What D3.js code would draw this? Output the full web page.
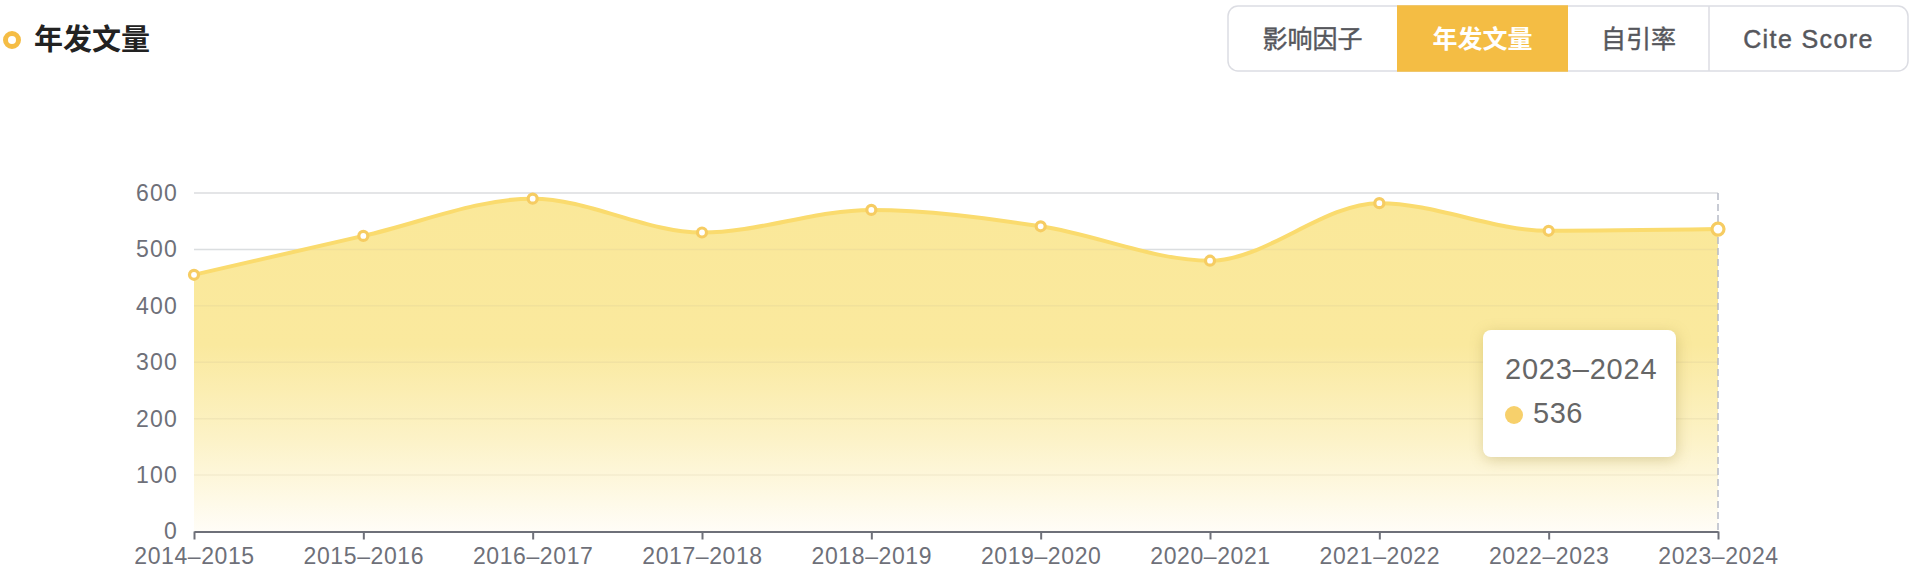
<!DOCTYPE html>
<html>
<head>
<meta charset="utf-8">
<script src="https://cdn.jsdelivr.net/npm/d3@7/dist/d3.min.js"></script>
<style>
  html, body { margin: 0; padding: 0; background: #fff; }
  body { width: 1918px; height: 576px; position: relative; overflow: hidden;
         font-family: "Liberation Sans", "Noto Sans CJK SC", sans-serif; }
  #tip { position: absolute; left: 1483px; top: 330px; width: 193px; height: 127px;
         background: #fff; border-radius: 8px; box-shadow: 1px 3px 14px rgba(160,140,60,0.35);
         box-sizing: border-box; padding: 0; color: #666; }
  #tip .t { position: absolute; left: 22px; top: 22px; font-size: 29px; line-height: 34px; white-space: nowrap; letter-spacing: 0.8px; }
  #tip .v { position: absolute; left: 50px; top: 66px; font-size: 29px; line-height: 34px; letter-spacing: 0.5px; }
  #tip .d { position: absolute; left: 22px; top: 76px; width: 18px; height: 18px; border-radius: 50%; background: #f7d06b; }
</style>
</head>
<body>
<svg id="chart" width="1918" height="576"></svg>
<div id="tip"><div class="t"></div><span class="d"></span><div class="v"></div></div>
<script>
const categories = ["2014–2015","2015–2016","2016–2017","2017–2018","2018–2019","2019–2020","2020–2021","2021–2022","2022–2023","2023–2024"];
const values = [455, 524, 590, 530, 570, 541, 480, 582, 533, 536];
const yTicks = [0, 100, 200, 300, 400, 500, 600];
const tabs = ["影响因子", "年发文量", "自引率", "Cite Score"];
const activeTab = "年发文量";
const title = "年发文量";
const hoverIndex = 9;

(function () {
const svg = d3.select("#chart");
const pL = 194, pR = 1718, pT = 193, pB = 531.5;

const x = d3.scalePoint().domain(categories).range([pL, pR]);
const y = d3.scaleLinear().domain([0, 600]).range([pB, pT]);

// Title
const tg = svg.append("g");
tg.append("circle").attr("cx", 12).attr("cy", 40).attr("r", 6.5).attr("fill", "#fff")
  .attr("stroke", "#f5bd45").attr("stroke-width", 5);
tg.append("text").attr("x", 34).attr("y", 40).attr("dy", "0.36em")
  .attr("font-family", "'Noto Sans CJK SC', sans-serif").attr("font-weight", 700)
  .attr("font-size", 29).attr("fill", "#222").text(title);

// Tabs
const tabEdges = [1228, 1397, 1568, 1709, 1908];
const bt = 6, bb = 71;
const tabG = svg.append("g");
tabG.append("rect").attr("x", tabEdges[0]).attr("y", bt).attr("width", tabEdges[4] - tabEdges[0])
  .attr("height", bb - bt).attr("rx", 10).attr("fill", "#fff").attr("stroke", "#dcdde3").attr("stroke-width", 1.5);
tabs.forEach((t, i) => {
  if (t === activeTab) {
    tabG.append("rect").attr("x", tabEdges[i]).attr("y", bt - 0.75).attr("width", tabEdges[i+1] - tabEdges[i])
      .attr("height", bb - bt + 1.5).attr("fill", "#f4bd44");
  }
});
tabG.append("line").attr("x1", tabEdges[3]).attr("x2", tabEdges[3]).attr("y1", bt).attr("y2", bb)
  .attr("stroke", "#dcdde3").attr("stroke-width", 1.5);
tabs.forEach((t, i) => {
  const cx = (tabEdges[i] + tabEdges[i+1]) / 2;
  const latin = /^[A-Za-z ]+$/.test(t);
  const active = t === activeTab;
  tabG.append("text").attr("x", cx).attr("y", 38.5).attr("dy", "0.36em").attr("text-anchor", "middle")
    .attr("font-size", 25).attr("font-weight", active ? 700 : 400)
    .attr("letter-spacing", latin ? 1.4 : 0)
    .attr("fill", active ? "#fff" : "#56575c")
    .attr("stroke", active ? "none" : "#56575c").attr("stroke-width", active ? 0 : 0.45)
    .text(t);
});

// Gradient
const defs = svg.append("defs");
const grad = defs.append("linearGradient").attr("id", "ag").attr("gradientUnits", "userSpaceOnUse")
  .attr("x1", 0).attr("x2", 0).attr("y1", pT).attr("y2", pB);
[[0, "#fae899"], [0.45, "#fae99e"], [0.72, "#fcf2c6"], [1, "#fffdf7"]].forEach(s =>
  grad.append("stop").attr("offset", s[0]).attr("stop-color", s[1]));

// Gridlines
svg.append("g").selectAll("line").data(yTicks.filter(d => d > 0)).join("line")
  .attr("x1", pL).attr("x2", pR).attr("y1", d => y(d)).attr("y2", d => y(d))
  .attr("stroke", "#e0e6f1").attr("stroke-width", 1.5);

// Area
const pts = values.map((v, i) => [x(categories[i]), y(v)]);
const area = d3.area().x(d => d[0]).y0(pB).y1(d => d[1]).curve(d3.curveMonotoneX);
svg.append("path").attr("d", area(pts)).attr("fill", "url(#ag)");

// gridlines over area (faint)
svg.append("g").selectAll("line").data(yTicks.filter(d => d > 0)).join("line")
  .attr("x1", pL).attr("x2", pR).attr("y1", d => y(d)).attr("y2", d => y(d))
  .attr("stroke", "rgba(200,190,150,0.18)").attr("stroke-width", 1.5);

// Y axis labels
const yAxis = d3.axisLeft(y).tickValues(yTicks).tickSize(0).tickPadding(16);
const yg = svg.append("g").attr("transform", `translate(${pL},0)`).call(yAxis);
yg.select(".domain").remove();
yg.selectAll("text").attr("font-size", 23).attr("fill", "#6e7079").attr("letter-spacing", 1.2)
  .attr("font-family", "'Liberation Sans', sans-serif");

// Pointer dashed line
svg.append("line").attr("x1", x(categories[hoverIndex])).attr("x2", x(categories[hoverIndex]))
  .attr("y1", pT).attr("y2", pB).attr("stroke", "#b6bac6").attr("stroke-width", 1.5)
  .attr("stroke-dasharray", "7,4");

// X axis
const xAxis = d3.axisBottom(x).tickSize(8).tickSizeOuter(0).tickPadding(8);
const xg = svg.append("g").attr("transform", `translate(0,${pB})`).call(xAxis);
xg.select(".domain").attr("stroke", "#6e7079").attr("stroke-width", 2);
xg.selectAll(".tick line").attr("stroke", "#6e7079").attr("stroke-width", 2);
xg.selectAll("text").attr("font-size", 23).attr("fill", "#6e7079").attr("letter-spacing", 0.6)
  .attr("font-family", "'Liberation Sans', sans-serif");

// Line
const line = d3.line().curve(d3.curveMonotoneX);
svg.append("path").attr("d", line(pts)).attr("fill", "none").attr("stroke", "#fadb6e").attr("stroke-width", 4);

// Points
svg.append("g").selectAll("circle").data(pts).join("circle")
  .attr("cx", d => d[0]).attr("cy", d => d[1])
  .attr("r", (d, i) => i === hoverIndex ? 6 : 4.5)
  .attr("fill", "#fff").attr("stroke", "#f6cc62").attr("stroke-width", 3.2);

// Tooltip
d3.select("#tip .t").text(categories[hoverIndex]);
d3.select("#tip .v").text(values[hoverIndex]);
})();
</script>
</body>
</html>
